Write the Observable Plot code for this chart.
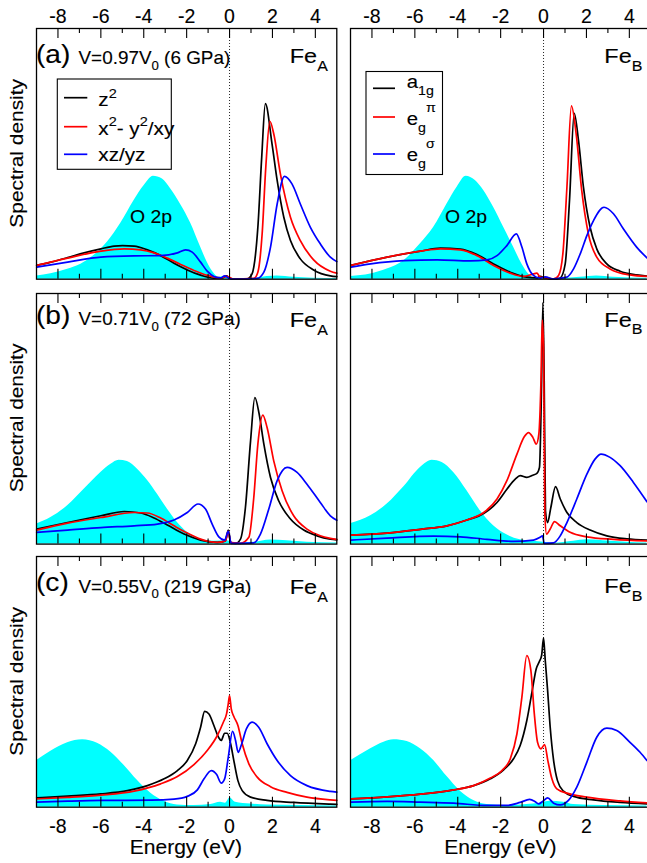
<!DOCTYPE html>
<html>
<head>
<meta charset="utf-8">
<script src="https://cdn.jsdelivr.net/npm/d3@7"></script>
<script src="https://cdn.jsdelivr.net/npm/@observablehq/plot@0.6"></script>
<style>
  html, body { margin: 0; padding: 0; background: #fff; }
  #fig { position: relative; width: 647px; height: 863px; overflow: hidden; background: #fff; }
  #fig > svg, #fig > .panel { position: absolute; }
  #fig .panel g[aria-label="x-axis tick label"] text { font-size: 19.5px; stroke: #000; stroke-width: 0.12px; }
  #fig .overlay text { stroke: #000; stroke-width: 0.12px; }
</style>
</head>
<body>
<div id="fig"></div>
<script>
// ---------------- data (energy in eV, spectral density in % of panel height) ----------------
const energyTicks = [-8, -7, -6, -5, -4, -3, -2, -1, 0, 1, 2, 3, 4];
const energyTickLabels = [-8, -6, -4, -2, 0, 2, 4];
const panelTags = ["(a)", "(b)", "(c)"];
const volumeLabels = [["0.97", "6"], ["0.71", "72"], ["0.55", "219"]];
const siteNames = ["A", "B"];

// (a) V=0.97V0, Fe_A
const a_FeA_O2p = [[-8.99,1.3],[-8.33,2.2],[-7.55,4],[-6.93,6],[-6.31,9.5],[-5.69,14.8],[-5.07,22.3],[-4.45,31.4],[-3.98,37.4],[-3.55,41.1],[-3.13,40],[-2.74,36],[-2.28,29.8],[-1.81,22.3],[-1.35,12.8],[-1.04,6.8],[-0.73,2.4],[-0.5,0.8],[-0.26,1],[-0.03,0.8],[0.2,0.1],[1.13,0.3],[1.75,1.1],[2.22,1.3],[3.0,0.8],[3.92,0.4],[5,0.3]];
const a_FeA_z2 = [[-8.99,5.5],[-8.33,6.8],[-7.55,8.6],[-6.78,10.5],[-6.0,12.1],[-5.38,13.2],[-4.99,13.4],[-4.45,13.2],[-3.83,11.7],[-3.21,9.4],[-2.59,6.4],[-1.97,3.7],[-1.35,1.6],[-0.73,0.4],[-0.34,0.5],[-0.14,1.3],[-0.02,0.5],[0.2,0],[0.82,0.1],[1.05,2.1],[1.13,4.8],[1.32,20.7],[1.5,48.7],[1.67,70],[1.98,54],[2.22,39.4],[2.53,24.7],[2.84,15.4],[3.3,8.1],[3.92,3.7],[4.7,1.3],[5,1.0]];
const a_FeA_x2y2 = [[-8.99,5.5],[-7.55,8.4],[-6.0,11.2],[-4.91,12.1],[-4.14,11.7],[-3.52,10.5],[-2.9,8.4],[-2.28,5.9],[-1.66,3.5],[-1.04,1.5],[-0.42,0.5],[-0.14,1.1],[0.2,0],[1.13,0.3],[1.32,2.8],[1.52,18.1],[1.69,44.7],[1.88,63],[2.06,58],[2.37,42],[2.84,24.7],[3.3,15.4],[3.92,7.7],[4.7,3.2],[5,2.4]];
const a_FeA_xzyz = [[-8.99,4.8],[-7.55,6.8],[-6.0,8.8],[-4.45,9.3],[-3.21,9.4],[-2.43,10.5],[-2.05,11.7],[-1.74,10.8],[-1.35,6.8],[-1.04,3.2],[-0.73,1.1],[-0.42,0.5],[-0.23,1.3],[-0.03,0.4],[0.2,0],[1.29,0.3],[1.6,2.8],[1.91,12.8],[2.22,30],[2.56,41],[2.91,38],[3.3,30],[3.77,20.7],[4.23,14.1],[4.7,8.8],[5,7.0]];
// (a) Fe_B
const a_FeB_O2p = [[-8.98,1.1],[-8.06,2.1],[-7.29,4.1],[-6.51,7.4],[-5.74,14.1],[-5.12,20.7],[-4.5,30],[-4.03,36.7],[-3.61,41.1],[-3.18,39.4],[-2.79,35.4],[-2.33,28.7],[-1.86,20.7],[-1.4,12.8],[-1.01,6.1],[-0.7,2.1],[-0.47,0.5],[-0.16,0.3],[0.47,0.1],[1.71,0.8],[2.48,1.3],[3.26,0.8],[4.82,0.4]];
const a_FeB_a1g = [[-8.98,5.5],[-7.29,8.8],[-5.74,11.2],[-4.81,12.4],[-3.88,12],[-3.1,9.8],[-2.33,6.1],[-1.55,2.8],[-0.78,0.8],[-0.31,0.5],[-0.16,1.1],[0.08,0.5],[0.47,0],[0.78,0.5],[1.01,6.1],[1.21,31.4],[1.43,66.2],[1.63,55.3],[1.86,36.7],[2.17,20.7],[2.48,12.1],[2.95,6.1],[3.57,3.2],[4.34,1.7],[4.82,1.2]];
const a_FeB_egpi = [[-8.98,5.5],[-7.29,8.8],[-5.74,11.2],[-4.81,12.1],[-3.88,11.7],[-3.1,9.4],[-2.33,5.5],[-1.55,2.4],[-0.93,1.1],[-0.47,2.1],[-0.31,2.4],[-0.16,0.8],[0.16,0.5],[0.47,0.1],[0.7,1.5],[0.9,10.1],[1.09,36.7],[1.3,69.1],[1.52,58],[1.78,35.4],[2.09,18.1],[2.48,8.8],[3.1,4.1],[4.03,1.7],[4.82,1.1]];
const a_FeB_egsigma = [[-8.98,4.8],[-8.06,6.1],[-6.51,7.4],[-4.96,7.7],[-3.41,7.3],[-2.64,7.7],[-2.17,9.4],[-1.71,13.4],[-1.27,18.1],[-1.01,12.8],[-0.78,6.1],[-0.47,1.5],[-0.16,0.4],[0.08,0.9],[0.47,0.1],[1.09,0.8],[1.4,4.1],[1.71,10.1],[2.02,17.4],[2.33,23.4],[2.82,28.7],[3.26,26.1],[3.72,20.1],[4.34,12.8],[4.82,8.5]];

// (b) V=0.71V0, Fe_A
const b_FeA_O2p = [[-8.99,8],[-8.33,10.6],[-7.55,15.3],[-6.78,21.9],[-6.0,28.6],[-5.53,31.9],[-5.15,33.5],[-4.76,33],[-4.29,29.9],[-3.83,25.5],[-3.36,19.9],[-2.9,14],[-2.43,8.6],[-1.97,4.7],[-1.35,2],[-0.73,1.1],[-0.11,1.3],[0.2,0.4],[1.13,0.7],[1.91,1.6],[2.68,1.3],[3.61,0.7],[5,0.4]];
const b_FeA_z2 = [[-8.99,6],[-7.55,8.6],[-6.0,11.3],[-4.91,13],[-4.14,12.4],[-3.52,10.4],[-2.9,7.6],[-2.12,4],[-1.35,1.6],[-0.57,0.7],[-0.19,1.3],[-0.06,5.6],[0.05,0.7],[0.28,0.3],[0.51,2],[0.74,14.6],[0.98,41.2],[1.18,58.5],[1.38,51.9],[1.6,39.9],[1.91,26.6],[2.29,17.3],[2.84,10],[3.46,5.6],[4.08,3.3],[4.7,2],[5,1.7]];
const b_FeA_x2y2 = [[-8.99,5.6],[-7.55,8.4],[-6.0,10.6],[-4.45,12.6],[-3.83,12.4],[-3.21,10.4],[-2.59,7.3],[-1.97,4.4],[-1.35,2],[-0.57,0.7],[-0.19,1.3],[-0.06,5.1],[0.05,0.7],[0.51,0.3],[0.9,2.7],[1.13,18.6],[1.32,39.9],[1.55,51.5],[1.75,46.5],[2.06,33.2],[2.45,21.3],[2.99,11.3],[3.61,6],[4.23,3.3],[4.7,2.3],[5,1.9]];
const b_FeA_xzyz = [[-8.99,4.7],[-7.55,5.6],[-6.0,6.6],[-4.45,7.3],[-3.36,8],[-2.59,9.6],[-1.97,12.6],[-1.47,16],[-1.12,14],[-0.81,8],[-0.5,2.9],[-0.23,1.6],[-0.06,5.1],[0.08,0.3],[1.13,0.5],[1.44,4],[1.83,14],[2.22,25.3],[2.68,30.6],[3.15,28.6],[3.61,23.9],[4.23,16.6],[4.7,11.3],[5,9.5]];
// (b) Fe_B
const b_FeB_O2p = [[-8.98,8.2],[-8.06,11.3],[-7.29,16],[-6.51,22.9],[-5.74,30.6],[-5.19,33.5],[-4.73,32.6],[-4.19,28.6],[-3.57,21.3],[-2.95,13.3],[-2.33,7.3],[-1.71,3.7],[-1.09,1.7],[-0.47,1.1],[0,0.7],[0.47,0.3],[1.4,1.1],[2.02,1.7],[2.79,1.3],[3.88,0.7],[4.82,0.4]];
const b_FeB_a1g = [[-8.98,3.6],[-7.29,4.4],[-5.74,5.9],[-4.5,7.3],[-3.57,9.6],[-2.79,12.2],[-2.17,16.6],[-1.71,21.9],[-1.32,25.9],[-1.09,27.3],[-0.78,26.6],[-0.5,27.5],[-0.31,28.2],[-0.19,30.6],[-0.09,65.2],[-0.03,96.4],[0.03,65.2],[0.09,13.3],[0.19,8.6],[0.34,14.6],[0.56,22.9],[0.78,18],[1.09,12.6],[1.55,8.6],[2.17,5.6],[2.95,3.3],[3.88,2.1],[4.82,1.6]];
const b_FeB_egpi = [[-8.98,3.6],[-7.29,4.4],[-5.74,5.9],[-4.5,7.3],[-3.57,9.6],[-2.79,12.6],[-2.17,18],[-1.71,25.3],[-1.24,35.9],[-0.9,42.8],[-0.7,44.5],[-0.5,42.6],[-0.34,39.9],[-0.22,43.9],[-0.12,65.2],[-0.06,89.4],[0,78.5],[0.06,12],[0.14,4],[0.31,6],[0.51,9],[0.78,7.3],[1.24,4.7],[2.02,2.9],[3.26,1.9],[4.82,1.3]];
const b_FeB_egsigma = [[-8.98,1.6],[-7.29,2.4],[-5.12,3.2],[-3.88,2.9],[-2.64,1.9],[-1.4,1.1],[-0.47,1.6],[-0.16,2.7],[-0.05,3.3],[0.03,0.3],[0.47,0.5],[0.78,3.3],[1.09,8.6],[1.55,18],[2.02,27.9],[2.4,33.9],[2.68,35.9],[3.1,34.6],[3.57,31.3],[4.19,24.6],[4.82,16.9]];

// (c) V=0.55V0, Fe_A
const c_FeA_O2p = [[-8.99,18.6],[-8.33,22.3],[-7.55,25.7],[-6.85,26.9],[-6.16,25.5],[-5.53,21.9],[-4.91,16.6],[-4.29,10.6],[-3.67,5.6],[-3.05,2.4],[-2.43,0.9],[-1.66,0.7],[-0.88,1.1],[-0.42,2],[-0.19,1.6],[0.02,3.7],[0.28,2],[0.98,1.3],[1.75,0.9],[3.3,0.7],[5,0.5]];
const c_FeA_z2 = [[-8.99,3.7],[-7.55,4.4],[-6.0,5.3],[-4.76,6.6],[-3.83,8.6],[-3.05,11.3],[-2.43,14.6],[-1.97,18.6],[-1.58,25.3],[-1.35,31.9],[-1.16,38.2],[-0.96,37.2],[-0.73,32.6],[-0.5,27.7],[-0.39,26.6],[-0.23,29.5],[-0.11,29.5],[0.05,25.3],[0.2,18.6],[0.39,10.6],[0.59,6.6],[0.98,4],[1.75,2.7],[2.99,1.9],[4.7,1.2],[5,1.1]];
const c_FeA_x2y2 = [[-8.99,3.3],[-7.55,3.9],[-6.0,4.8],[-4.45,6.4],[-3.21,9.3],[-2.43,12.2],[-1.66,17],[-1.04,22.6],[-0.57,28.6],[-0.29,33.9],[-0.14,37.2],[-0.06,41.2],[0,44.5],[0.08,39.2],[0.2,36.2],[0.39,32.6],[0.59,25.3],[0.9,17.3],[1.29,12],[1.91,8.2],[2.68,5.9],[3.61,4],[4.7,2.9],[5,2.7]];
const c_FeA_xzyz = [[-8.99,2],[-7.55,2.4],[-6.0,2.7],[-3.67,2.8],[-2.59,3.2],[-1.97,4.3],[-1.5,6.9],[-1.19,11.3],[-0.85,14.6],[-0.6,13],[-0.39,9.6],[-0.23,11.3],[-0.06,19.9],[0.14,30.3],[0.28,26.6],[0.4,21.9],[0.54,24.6],[0.79,31.3],[1.05,33.9],[1.36,31.9],[1.75,25.3],[2.22,18.6],[2.84,12.6],[3.61,8.6],[4.7,6.3],[5,6]];
// (c) Fe_B
const c_FeB_O2p = [[-8.98,18.6],[-8.06,23.3],[-7.44,25.9],[-6.98,26.9],[-6.36,26.2],[-5.74,23.3],[-5.12,18.6],[-4.5,12.2],[-3.88,6.4],[-3.26,2.7],[-2.64,1.1],[-1.71,0.7],[-0.78,1.1],[-0.16,1.6],[0.31,2.4],[0.93,2],[1.4,1.1],[2.79,0.7],[4.82,0.5]];
const c_FeB_a1g = [[-8.98,3.3],[-7.29,4.1],[-5.74,5.2],[-4.19,6.9],[-3.26,8.6],[-2.48,11.3],[-1.86,14.9],[-1.4,19.3],[-1.09,24.6],[-0.78,34.6],[-0.54,45.9],[-0.34,55.2],[-0.19,58.2],[-0.09,60.5],[0,67.4],[0.08,58.5],[0.19,46.5],[0.31,31.9],[0.47,18.6],[0.65,10.6],[0.93,6.4],[1.4,4.3],[2.33,2.9],[3.57,1.9],[4.82,1.3]];
const c_FeB_egpi = [[-8.98,3.3],[-7.29,4.1],[-5.74,5.2],[-4.19,6.9],[-3.26,8.6],[-2.48,11.6],[-1.94,14.6],[-1.55,19.3],[-1.24,29.3],[-1.01,43.9],[-0.78,60.5],[-0.59,54.5],[-0.43,37.2],[-0.28,25.9],[-0.12,23.3],[0.05,25],[0.2,18.6],[0.39,11.3],[0.62,7.3],[1.09,5.6],[2.02,4],[3.57,2.5],[4.82,1.7]];
const c_FeB_egsigma = [[-8.98,2],[-7.29,2.3],[-5.74,2],[-4.19,1.6],[-2.64,0.7],[-1.71,0.7],[-1.09,1.9],[-0.65,3.1],[-0.42,2.4],[-0.23,1.3],[-0.03,2.4],[0.19,3.7],[0.47,1.6],[0.78,0.9],[1.16,2.7],[1.55,8],[2.02,18],[2.48,27.9],[2.95,31.5],[3.41,30.6],[4.03,25.9],[4.5,21.9],[4.82,18.6]];

// ---------------- layout ----------------
const FONT = "'Liberation Sans', Arial, Helvetica, sans-serif";
const cols = [{left: 35.7, right: 336.0}, {left: 350.3, right: 650.6}];
const rows = [{top: 28.0, bottom: 278.7}, {top: 292.7, bottom: 543.3}, {top: 556.0, bottom: 806.7}];
const colors = {o2p: "#00ffff", s1: "#000000", s2: "#ff0000", s3: "#0000ff"};

const panels = [
  {row: 0, col: 0, o2p: a_FeA_O2p, s1: a_FeA_z2, s2: a_FeA_x2y2, s3: a_FeA_xzyz},
  {row: 0, col: 1, o2p: a_FeB_O2p, s1: a_FeB_a1g, s2: a_FeB_egpi, s3: a_FeB_egsigma},
  {row: 1, col: 0, o2p: b_FeA_O2p, s1: b_FeA_z2, s2: b_FeA_x2y2, s3: b_FeA_xzyz},
  {row: 1, col: 1, o2p: b_FeB_O2p, s1: b_FeB_a1g, s2: b_FeB_egpi, s3: b_FeB_egsigma},
  {row: 2, col: 0, o2p: c_FeA_O2p, s1: c_FeA_z2, s2: c_FeA_x2y2, s3: c_FeA_xzyz},
  {row: 2, col: 1, o2p: c_FeB_O2p, s1: c_FeB_a1g, s2: c_FeB_egpi, s3: c_FeB_egsigma}
];

const fig = document.getElementById("fig");
const tickFmt = d => (d < 0 ? "-" : "") + Math.abs(d);

for (const p of panels) {
  const c = cols[p.col], r = rows[p.row];
  const mL = 3, mR = 3;
  const mT = p.row === 0 ? 32 : 3;
  const mB = p.row === 2 ? 40 : 3;
  const w = c.right - c.left, h = r.bottom - r.top;
  const major = 10 / h * 100, minor = 5 / h * 100;
  const tickLen = d => (d % 2 === 0 ? major : minor);
  const line = (data, color) => Plot.line(data, {x: d => d[0], y: d => d[1], stroke: color, strokeWidth: 1.7, curve: "monotone-x"});
  const marks = [
    Plot.areaY(p.o2p, {x: d => d[0], y: d => d[1], fill: colors.o2p, curve: "monotone-x"}),
    Plot.ruleX([0], {stroke: "#222", strokeWidth: 1, strokeDasharray: "1,2"}),
    line(p.s1, colors.s1),
    line(p.s2, colors.s2),
    line(p.s3, colors.s3),
    Plot.ruleX(energyTicks, {x: d => d, y1: 0, y2: tickLen, stroke: "#000", strokeWidth: 1.1}),
    Plot.ruleX(energyTicks, {x: d => d, y1: 100, y2: d => 100 - tickLen(d), stroke: "#000", strokeWidth: 1.1}),
    Plot.frame({stroke: "#000", strokeWidth: 1.3})
  ];
  if (p.row === 0) marks.push(Plot.axisX(energyTickLabels, {anchor: "top", tickSize: 0, tickPadding: 5, label: null, fontSize: 19.5, tickFormat: tickFmt}));
  if (p.row === 2) marks.push(Plot.axisX(energyTickLabels, {anchor: "bottom", tickSize: 0, tickPadding: 12, label: null, fontSize: 19.5, tickFormat: tickFmt}));
  const chart = Plot.plot({
    width: w + mL + mR,
    height: h + mT + mB,
    marginLeft: mL, marginRight: mR, marginTop: mT, marginBottom: mB,
    x: {domain: [-9, 5], axis: (p.row === 0 || p.row === 2) ? undefined : null},
    y: {domain: [0, 100], axis: null},
    style: {fontFamily: FONT, fontSize: "19.5px", background: "transparent", color: "#000"},
    marks
  });
  chart.classList.add("panel");
  chart.style.left = (c.left - mL) + "px";
  chart.style.top = (r.top - mT) + "px";
  chart.style.maxWidth = "none";
  fig.appendChild(chart);
}

// ---------------- text overlay ----------------
const svg = d3.select(fig).append("svg")
  .attr("class", "overlay")
  .attr("width", 647).attr("height", 863)
  .style("left", "0px").style("top", "0px")
  .attr("font-family", FONT).attr("fill", "#000");

function rich(x, y, size, segs, opts = {}) {
  const sx = opts.sx ?? 1.12, anchor = opts.anchor ?? "start", rot = opts.rotate ?? 0;
  const sub = opts.sub ?? 0.3, sup = opts.sup ?? -0.45, small = opts.small ?? 0.7;
  const t = svg.append("text")
    .attr("transform", `translate(${x},${y}) rotate(${rot}) scale(${sx},1)`)
    .attr("font-size", size).attr("text-anchor", anchor);
  let cur = 0;
  for (const [s, k] of segs) {
    const target = k === "sub" ? sub * size : k === "sup" ? sup * size : 0;
    t.append("tspan").attr("dy", target - cur).attr("font-size", k ? small * size : size).text(s);
    cur = target;
  }
  return t;
}

const tagBase = [63, 324, 591];
const volBase = [64, 325, 592.5];
const feBase = [[63, 63], [327, 326.5], [594, 593]];
rows.forEach((r, i) => {
  rich(36, tagBase[i], 26, [[panelTags[i], ""]], {sx: 1.08});
  rich(78.5, volBase[i], 17.5, [["V=" + volumeLabels[i][0] + "V", ""], ["0", "sub"], [" (" + volumeLabels[i][1] + " GPa)", ""]], {sx: 1.08, sub: 0.32});
  cols.forEach((c, j) => {
    rich(c.left + 254, feBase[i][j], 21, [["Fe", ""], [siteNames[j], "sub"]], {sx: 1.12, sub: 0.36, small: 0.68});
  });
  // y label
  rich(22.7, (r.top + r.bottom) / 2, 19, [["Spectral density", ""]], {anchor: "middle", rotate: -90, sx: 1.1});
});

// O 2p labels (row a)
rich(130, 223, 18, [["O 2p", ""]], {sx: 1.08});
rich(445, 223, 18, [["O 2p", ""]], {sx: 1.08});

// x labels
cols.forEach(c => rich((c.left + c.right) / 2, 854, 19.5, [["Energy (eV)", ""]], {anchor: "middle", sx: 1.08}));

// legend (a) Fe_A
const legCol = [colors.s1, colors.s2, colors.s3];
svg.append("rect").attr("x", 57.3).attr("y", 79).attr("width", 114).attr("height", 90.3)
  .attr("fill", "#fff").attr("stroke", "#000").attr("stroke-width", 1.1);
const legY_A = [97.7, 126.7, 154.3];
legY_A.forEach((y, i) => svg.append("line").attr("x1", 64).attr("x2", 87.3).attr("y1", y).attr("y2", y).attr("stroke", legCol[i]).attr("stroke-width", 1.7));
rich(98.3, 106, 18.5, [["z", ""], ["2", "sup"]], {sx: 1.12});
rich(98.3, 134.5, 18.5, [["x", ""], ["2", "sup"], ["- y", ""], ["2", "sup"], ["/xy", ""]], {sx: 1.12});
rich(98.3, 160.5, 18.5, [["xz/yz", ""]], {sx: 1.12});

// legend (a) Fe_B
svg.append("rect").attr("x", 366).attr("y", 71.5).attr("width", 76.5).attr("height", 103)
  .attr("fill", "#fff").attr("stroke", "#000").attr("stroke-width", 1.1);
const legY_B = [88.3, 117, 154];
legY_B.forEach((y, i) => svg.append("line").attr("x1", 373).attr("x2", 395).attr("y1", y).attr("y2", y).attr("stroke", legCol[i]).attr("stroke-width", 1.7));
rich(406.7, 88, 18.5, [["a", ""], ["1g", "sub"]], {sx: 1.1, sub: 0.4});
rich(406.7, 124.5, 18.5, [["e", ""], ["g", "sub"], ["π", "sup"]], {sx: 1.1, sub: 0.4, sup: -0.68});
rich(406.7, 161, 18.5, [["e", ""], ["g", "sub"], ["σ", "sup"]], {sx: 1.1, sub: 0.4, sup: -0.68});
</script>
</body>
</html>
